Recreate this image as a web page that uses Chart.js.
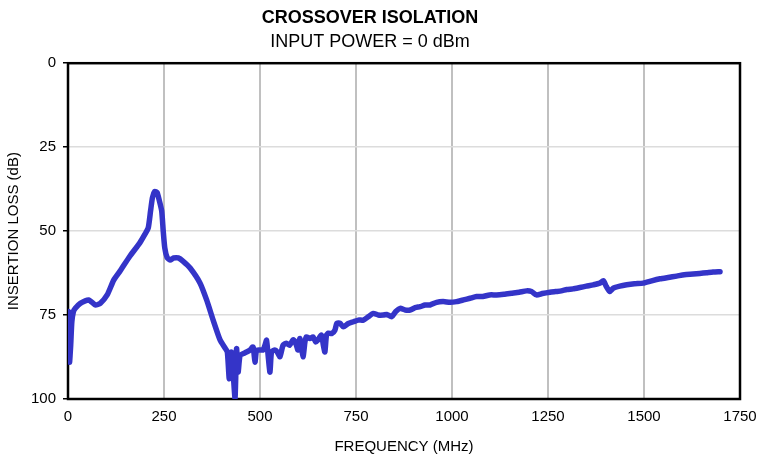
<!DOCTYPE html>
<html>
<head>
<meta charset="utf-8">
<script src="https://cdn.jsdelivr.net/npm/chart.js@4.4.1/dist/chart.umd.min.js"></script>
<style>
    html, body { margin: 0; padding: 0; background: #fff; }
    #box { width: 759px; height: 460px; }
</style>
</head>
<body>
<div id="box"><canvas id="canvas-chart"></canvas></div>
<script>

var freq = [
    0, 2, 4, 7, 10, 14, 19, 32, 54, 71, 84, 102, 119, 135, 161, 187, 200, 209,
    215, 220, 226, 232, 238, 244, 248, 252, 258, 266, 275, 287, 300, 318, 344,
    361, 378, 396, 410, 415, 420, 425, 430, 435, 439, 443, 448, 456, 465, 474,
    482, 487, 491, 500, 508, 513, 517, 522, 526, 530, 539, 545, 552, 560, 569,
    577, 586, 592, 599, 604, 612, 617, 621, 630, 638, 645, 651, 660, 665, 669,
    673, 678, 687, 695, 700, 708, 717, 730, 743, 756, 769, 782, 795, 808, 821,
    830, 843, 853, 865, 878, 891, 904, 917, 930, 943, 960, 977, 995, 1012, 1030,
    1047, 1064, 1080, 1098, 1116, 1135, 1155, 1175, 1194, 1207, 1220, 1235,
    1255, 1270, 1285, 1299, 1315, 1333, 1350, 1368, 1385, 1394, 1402, 1411,
    1420, 1437, 1455, 1475, 1498, 1520, 1542, 1563, 1585, 1605, 1628, 1645,
    1663, 1680, 1698
];

var loss = [
    80, 74, 89, 84, 77, 74, 73, 71.5, 70.5, 72, 71.5, 69, 64.6, 62, 57.5, 53.5, 51, 49,
    44, 40, 38.2, 38.5, 41, 44, 50, 55, 57.8, 58.6, 58, 58, 59, 61, 65.5,
    70.5, 76.5, 82.4, 85, 86, 94, 86, 92, 99.8, 85, 92, 87, 86.5, 86, 85.4,
    84.5, 89, 85.5, 85.4, 85.4, 84, 82.5, 88, 92, 86, 85.4, 86, 87.4, 84, 83.4,
    84, 82.4, 83, 85.4, 82, 87.4, 83, 81.5, 82, 81.5, 83, 82.4, 81, 84, 86,
    81, 80.4, 80.5, 79.5, 77.5, 77.4, 78.5, 77.5, 77, 76.5, 76.5, 75.5, 74.5, 75, 75,
    74.8, 75.5, 74, 73, 73.5, 73.5, 72.8, 72.5, 72, 72, 71.2, 71, 71.2, 71, 70.5,
    70, 69.5, 69.5, 69, 69, 68.8, 68.5, 68.2, 67.8, 68, 69, 68.6,
    68.2, 68, 67.8, 67.4, 67.2, 66.8, 66.4, 66, 65.5, 64.8, 66.5, 68,
    67, 66.4, 66, 65.7, 65.5, 64.8, 64.2, 63.8, 63.4, 63, 62.8, 62.6,
    62.4, 62.2, 62.1
];

var xTicks = [0, 250, 500, 750, 1000, 1250, 1500, 1750];
var yTicks = [0, 25, 50, 75, 100];

var font = 'Arial, "Liberation Sans", sans-serif';

// 绘图区四周的黑框，画在曲线下面
var frame = {
    id: 'frame',
    beforeDatasetsDraw: function (chart) {
        var a = chart.chartArea;
        var ctx = chart.ctx;
        ctx.save();
        ctx.strokeStyle = '#000';
        ctx.lineWidth = 2.5;
        ctx.strokeRect(a.left, a.top, a.right - a.left, a.bottom - a.top);
        ctx.restore();
    },
};

var points = freq.map(function (f, i) {
    return { x: f, y: loss[i] };
});

var context = document.getElementById('canvas-chart').getContext('2d');

var chart = new Chart(context, {
    type: 'line',
    data: {
        datasets: [{
            data: points,
            borderColor: '#3434c8',
            borderWidth: 5.5,
            pointRadius: 0,
            tension: 0.2,
            borderJoinStyle: 'round',
            borderCapStyle: 'round',
        }],
    },
    options: {
        responsive: true,
        maintainAspectRatio: false,
        animation: false,
        layout: {
            padding: { top: 0, right: 19, bottom: 0, left: 0 },
        },
        plugins: {
            legend: { display: false },
            tooltip: { enabled: false },
            title: {
                display: true,
                text: 'CROSSOVER ISOLATION',
                color: '#000',
                font: { family: font, size: 18, weight: 'bold', lineHeight: 1.2 },
                padding: { top: 7, bottom: 0 },
            },
            subtitle: {
                display: true,
                text: 'INPUT POWER = 0 dBm',
                color: '#000',
                font: { family: font, size: 18, weight: 'normal', lineHeight: 1.2 },
                padding: { top: 3, bottom: 10 },
            },
        },
        scales: {
            x: {
                type: 'linear',
                min: 0,
                max: 1750,
                afterBuildTicks: function (scale) {
                    scale.ticks = xTicks.map(function (v) { return { value: v }; });
                },
                afterFit: function (scale) {
                    scale.height = 61;
                    // 右边留白只由 layout.padding 决定
                    scale.paddingLeft = 0;
                    scale.paddingRight = 0;
                },
                border: { display: false },
                grid: {
                    color: '#c0c0c0',
                    lineWidth: 2,
                    drawTicks: false,
                },
                ticks: {
                    color: '#000',
                    padding: 9,
                    maxRotation: 0,
                    font: { family: font, size: 15 },
                    callback: function (v) { return String(v); },
                },
                title: {
                    display: true,
                    text: 'FREQUENCY (MHz)',
                    color: '#000',
                    font: { family: font, size: 15 },
                    padding: { top: 4, bottom: 4 },
                },
            },
            y: {
                type: 'linear',
                reverse: true,
                min: 0,
                max: 100,
                afterBuildTicks: function (scale) {
                    scale.ticks = yTicks.map(function (v) { return { value: v }; });
                },
                afterFit: function (scale) {
                    scale.width = 68;
                },
                border: { display: false },
                grid: {
                    color: '#dcdcdc',
                    lineWidth: 1.5,
                    drawTicks: true,
                    tickLength: 5,
                    tickColor: '#000',
                    tickWidth: 1.5,
                },
                ticks: {
                    color: '#000',
                    padding: 7,
                    font: { family: font, size: 15 },
                    callback: function (v) { return String(v); },
                },
                title: {
                    display: true,
                    text: 'INSERTION LOSS (dB)',
                    color: '#000',
                    font: { family: font, size: 15 },
                    padding: { top: 5, bottom: 4 },
                },
            },
        },
    },
    plugins: [frame],
});

</script>
</body>
</html>
